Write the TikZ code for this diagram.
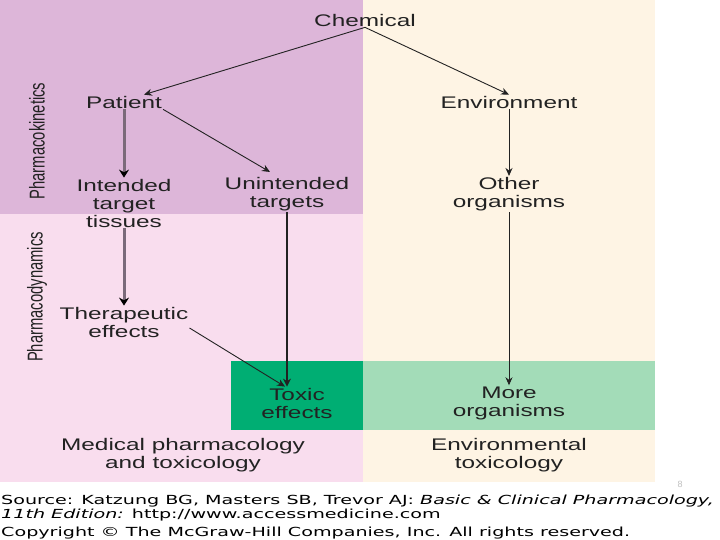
\documentclass[tikz,border=0pt]{standalone}
\usepackage{fontspec}
\setmainfont{Liberation Sans}[FakeStretch=1.45]
\newfontfamily\plainsans{Liberation Sans}
\newfontfamily\footfont{DejaVu Sans}[FakeStretch=1.53]
\usetikzlibrary{arrows.meta}
\definecolor{kinbg}{HTML}{DDB6D9}
\definecolor{dynbg}{HTML}{F9DDEE}
\definecolor{envbg}{HTML}{FEF4E4}
\definecolor{darkgreen}{HTML}{00AE73}
\definecolor{lightgreen}{HTML}{A3DCB8}
\definecolor{txt}{HTML}{222222}
\definecolor{grayarr}{HTML}{7B6A7A}
\tikzset{
  lbl/.style={font=\fontsize{16.8}{18}\selectfont, text=txt, align=center, inner sep=1pt},
  sidelbl/.style={rotate=90, text=txt, inner sep=0pt},
  arr/.style={draw=txt, line width=0.9pt, -{Stealth[length=8pt,width=7pt]}},
  garr/.style={draw=grayarr, line width=3pt, -{Stealth[length=8pt 0,width=10pt 0,fill=black,color=black]}},
  darr/.style={draw=txt, line width=1.6pt, -{Stealth[length=8pt,width=8pt]}},
  foot/.style={font=\footfont\fontsize{12.5}{14}\selectfont, anchor=west, inner sep=0pt, text=black}
}
\begin{document}
\begin{tikzpicture}[x=1pt,y=-1pt]
\useasboundingbox (0,0) rectangle (720,540);
\clip (0,0) rectangle (720,540);
\fill[white] (0,0) rectangle (720,540);
% background regions
\fill[kinbg] (0,0) rectangle (363,214);
\fill[dynbg] (0,214) rectangle (363,482);
\fill[envbg] (363,0) rectangle (655,482);
\fill[darkgreen] (231,361) rectangle (363,430);
\fill[lightgreen] (363,361) rectangle (655,430);
% side labels
\node[sidelbl] (pk) at (37,141) {\scalebox{1}[1.45]{\plainsans\fontsize{14.8}{16}\selectfont Pharmacokinetics}};
\node[sidelbl] (pd) at (37,297) {\scalebox{1}[1.45]{\plainsans\fontsize{14.8}{16}\selectfont Pharmacodynamics}};
% nodes
\node[lbl] (chem) at (365,20) {Chemical};
\node[lbl] (pat) at (124,102) {Patient};
\node[lbl] (env) at (509,102) {Environment};
\node[lbl] (int) at (124,203) {Intended\\target\\tissues};
\node[lbl] (unint) at (287,194) {Unintended\\targets};
\node[lbl] (other) at (509,194) {Other\\organisms};
\node[lbl] (ther) at (124,322) {Therapeutic\\effects};
\node[lbl] (toxic) at (297,403) {Toxic\\effects};
\node[lbl] (more) at (509,403) {More\\organisms};
\node[lbl] (med) at (183,455) {Medical pharmacology\\and toxicology};
\node[lbl] (envtox) at (509,455) {Environmental\\toxicology};
% connectors
\draw[arr] (chem.south) -- ([xshift=20pt]pat.north);
\draw[arr] (chem.south) -- (env.north);
\draw[garr] (pat.south) -- (int.north);
\draw[arr] (pat.south east) -- ([xshift=-17pt,yshift=4pt]unint.north);
\draw[arr] (env.south) -- (other.north);
\draw[darr] (unint.south) -- (unint.south |- toxic.north);
\draw[garr] (int.south) -- (ther.north);
\draw[arr] ([yshift=-6pt]ther.east) -- ([xshift=-12pt]toxic.north);
\draw[arr] (other.south) -- (more.north);
% page number
\node[font=\plainsans\fontsize{9}{10}\selectfont, text=black!25, inner sep=0pt] (pgno) at (680,484) {8};
% footer
\node[foot] (src1) at (1,501) {Source: Katzung BG, Masters SB, Trevor AJ: \textit{Basic \& Clinical Pharmacology,}};
\node[foot] (src2) at (1,515) {\textit{11th Edition:} http://www.accessmedicine.com};
\node[foot] (copy) at (1,533) {Copyright \textcopyright{} The McGraw-Hill Companies, Inc. All rights reserved.};
\end{tikzpicture}
\end{document}
